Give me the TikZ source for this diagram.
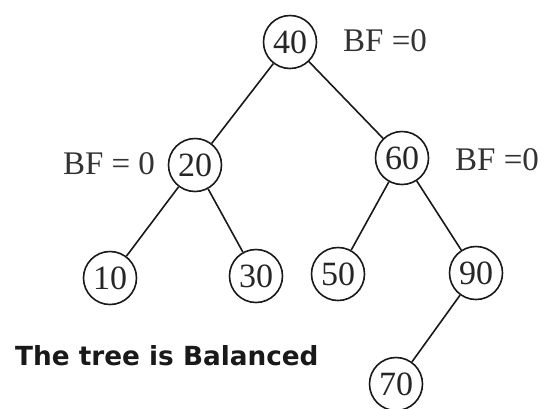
\documentclass[tikz,border=0pt]{standalone}
\usepackage{fontspec}
\setmainfont{Liberation Serif}
\newfontfamily\labelsans{DejaVu Sans}
\begin{document}
\begin{tikzpicture}[x=1pt,y=-1pt,
  treenode/.style={circle,draw=black!90,line width=1.6pt,minimum size=53pt,inner sep=0pt,
    font=\fontsize{34}{34}\selectfont,text=black!85},
  bflabel/.style={inner sep=0pt,font=\fontsize{33}{33}\selectfont,text=black!80},
  edge/.style={draw=black!90,line width=1.6pt}]
\useasboundingbox[fill=white] (0,0) rectangle (548,408);
\node[treenode] (n40) at (290,42) {40};
\node[treenode] (n20) at (195,165) {20};
\node[treenode] (n60) at (402,158) {60};
\node[treenode] (n10) at (110,278) {10};
\node[treenode] (n30) at (256,276) {30};
\node[treenode] (n50) at (338,274) {50};
\node[treenode] (n90) at (476,273) {90};
\node[treenode] (n70) at (396,384) {70};
\draw[edge] (n40) -- (n20);
\draw[edge] (n40) -- (n60);
\draw[edge] (n20) -- (n10);
\draw[edge] (n20) -- (n30);
\draw[edge] (n60) -- (n50);
\draw[edge] (n60) -- (n90);
\draw[edge] (n90) -- (n70);
\node[bflabel] (bf40) at (385,41) {BF =0};
\node[bflabel] (bf20) at (109,164) {BF = 0};
\node[bflabel] (bf60) at (497,160) {BF =0};
\node[inner sep=0pt,anchor=west,font=\labelsans\bfseries\fontsize{26.3}{26}\selectfont,text=black!90] (caption) at (15,356) {The tree is Balanced};
\end{tikzpicture}
\end{document}
